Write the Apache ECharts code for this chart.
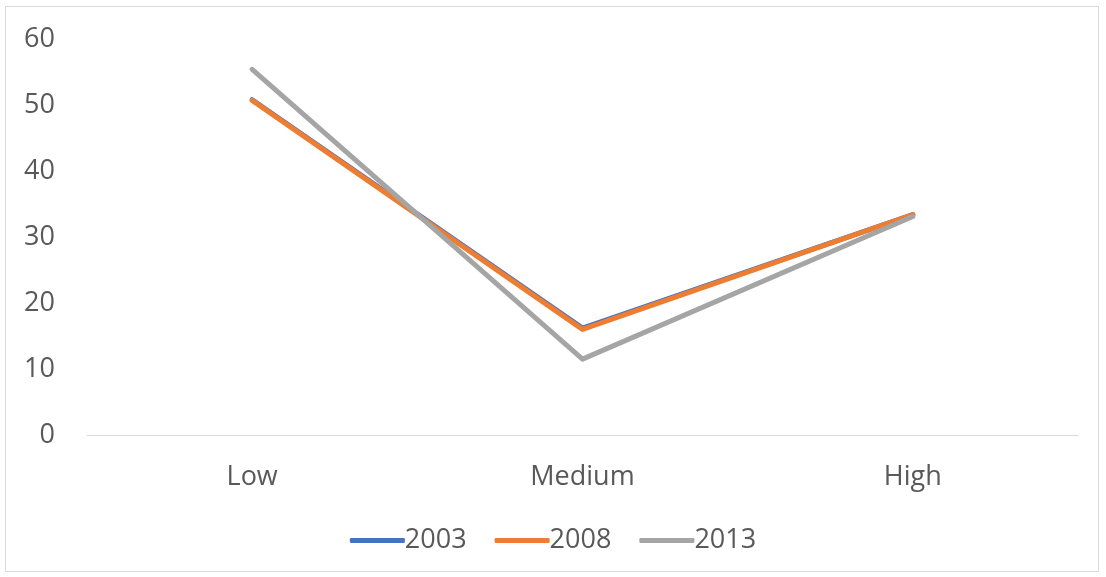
<!DOCTYPE html>
<html>
<head>
<meta charset="utf-8">
<script src="https://cdn.jsdelivr.net/npm/echarts@6/dist/echarts.min.js"></script>
<style>
  html, body { margin: 0; padding: 0; background: #fff; }
  #frame { position: absolute; left: 5px; top: 6px; width: 1094px; height: 566px; border: 1px solid #d9d9d9; box-sizing: border-box; }
  #chart { position: absolute; left: 0; top: 0; width: 1106px; height: 577px; }
</style>
</head>
<body>
<div id="frame"></div>
<div id="chart"></div>
<script>
// Share by level for each survey year
const categories = ['Low', 'Medium', 'High'];
const years = ['2003', '2008', '2013'];
const values2003 = [50.8, 16.2, 33.4];
const values2008 = [50.7, 16.0, 33.4];
const values2013 = [55.4, 11.5, 33.1];
const yTicks = { min: 0, max: 60, interval: 10 };

const colors = ['#4472C4', '#ED7D31', '#A5A5A5'];
const font = '"Open Sans", sans-serif';

const seriesData = [values2003, values2008, values2013];

const chart = echarts.init(document.getElementById('chart'), null, { renderer: 'canvas' });
chart.setOption({
  animation: false,
  color: colors,
  grid: { left: 87, right: 28, top: 39, bottom: 142 },
  legend: {
    bottom: 18,
    left: 'center',
    itemWidth: 55,
    itemHeight: 5,
    itemGap: 28,
    icon: 'roundRect',
    textStyle: { fontFamily: font, fontSize: 27, color: '#595959', padding: [0, 0, 0, -5] },
    data: years
  },
  xAxis: {
    type: 'category',
    data: categories,
    boundaryGap: true,
    axisLine: { lineStyle: { color: '#d9d9d9', width: 1 } },
    axisTick: { show: false },
    axisLabel: { fontFamily: font, fontSize: 27, color: '#595959', margin: 29 }
  },
  yAxis: {
    type: 'value',
    min: yTicks.min,
    max: yTicks.max,
    interval: yTicks.interval,
    axisLine: { show: false },
    axisTick: { show: false },
    splitLine: { show: false },
    axisLabel: { fontFamily: font, fontSize: 27, color: '#595959', margin: 32 }
  },
  series: years.map((y, i) => ({
    name: y,
    type: 'line',
    data: seriesData[i],
    symbol: 'none',
    lineStyle: { width: 5, cap: 'round', join: 'round' }
  }))
});
</script>
</body>
</html>
